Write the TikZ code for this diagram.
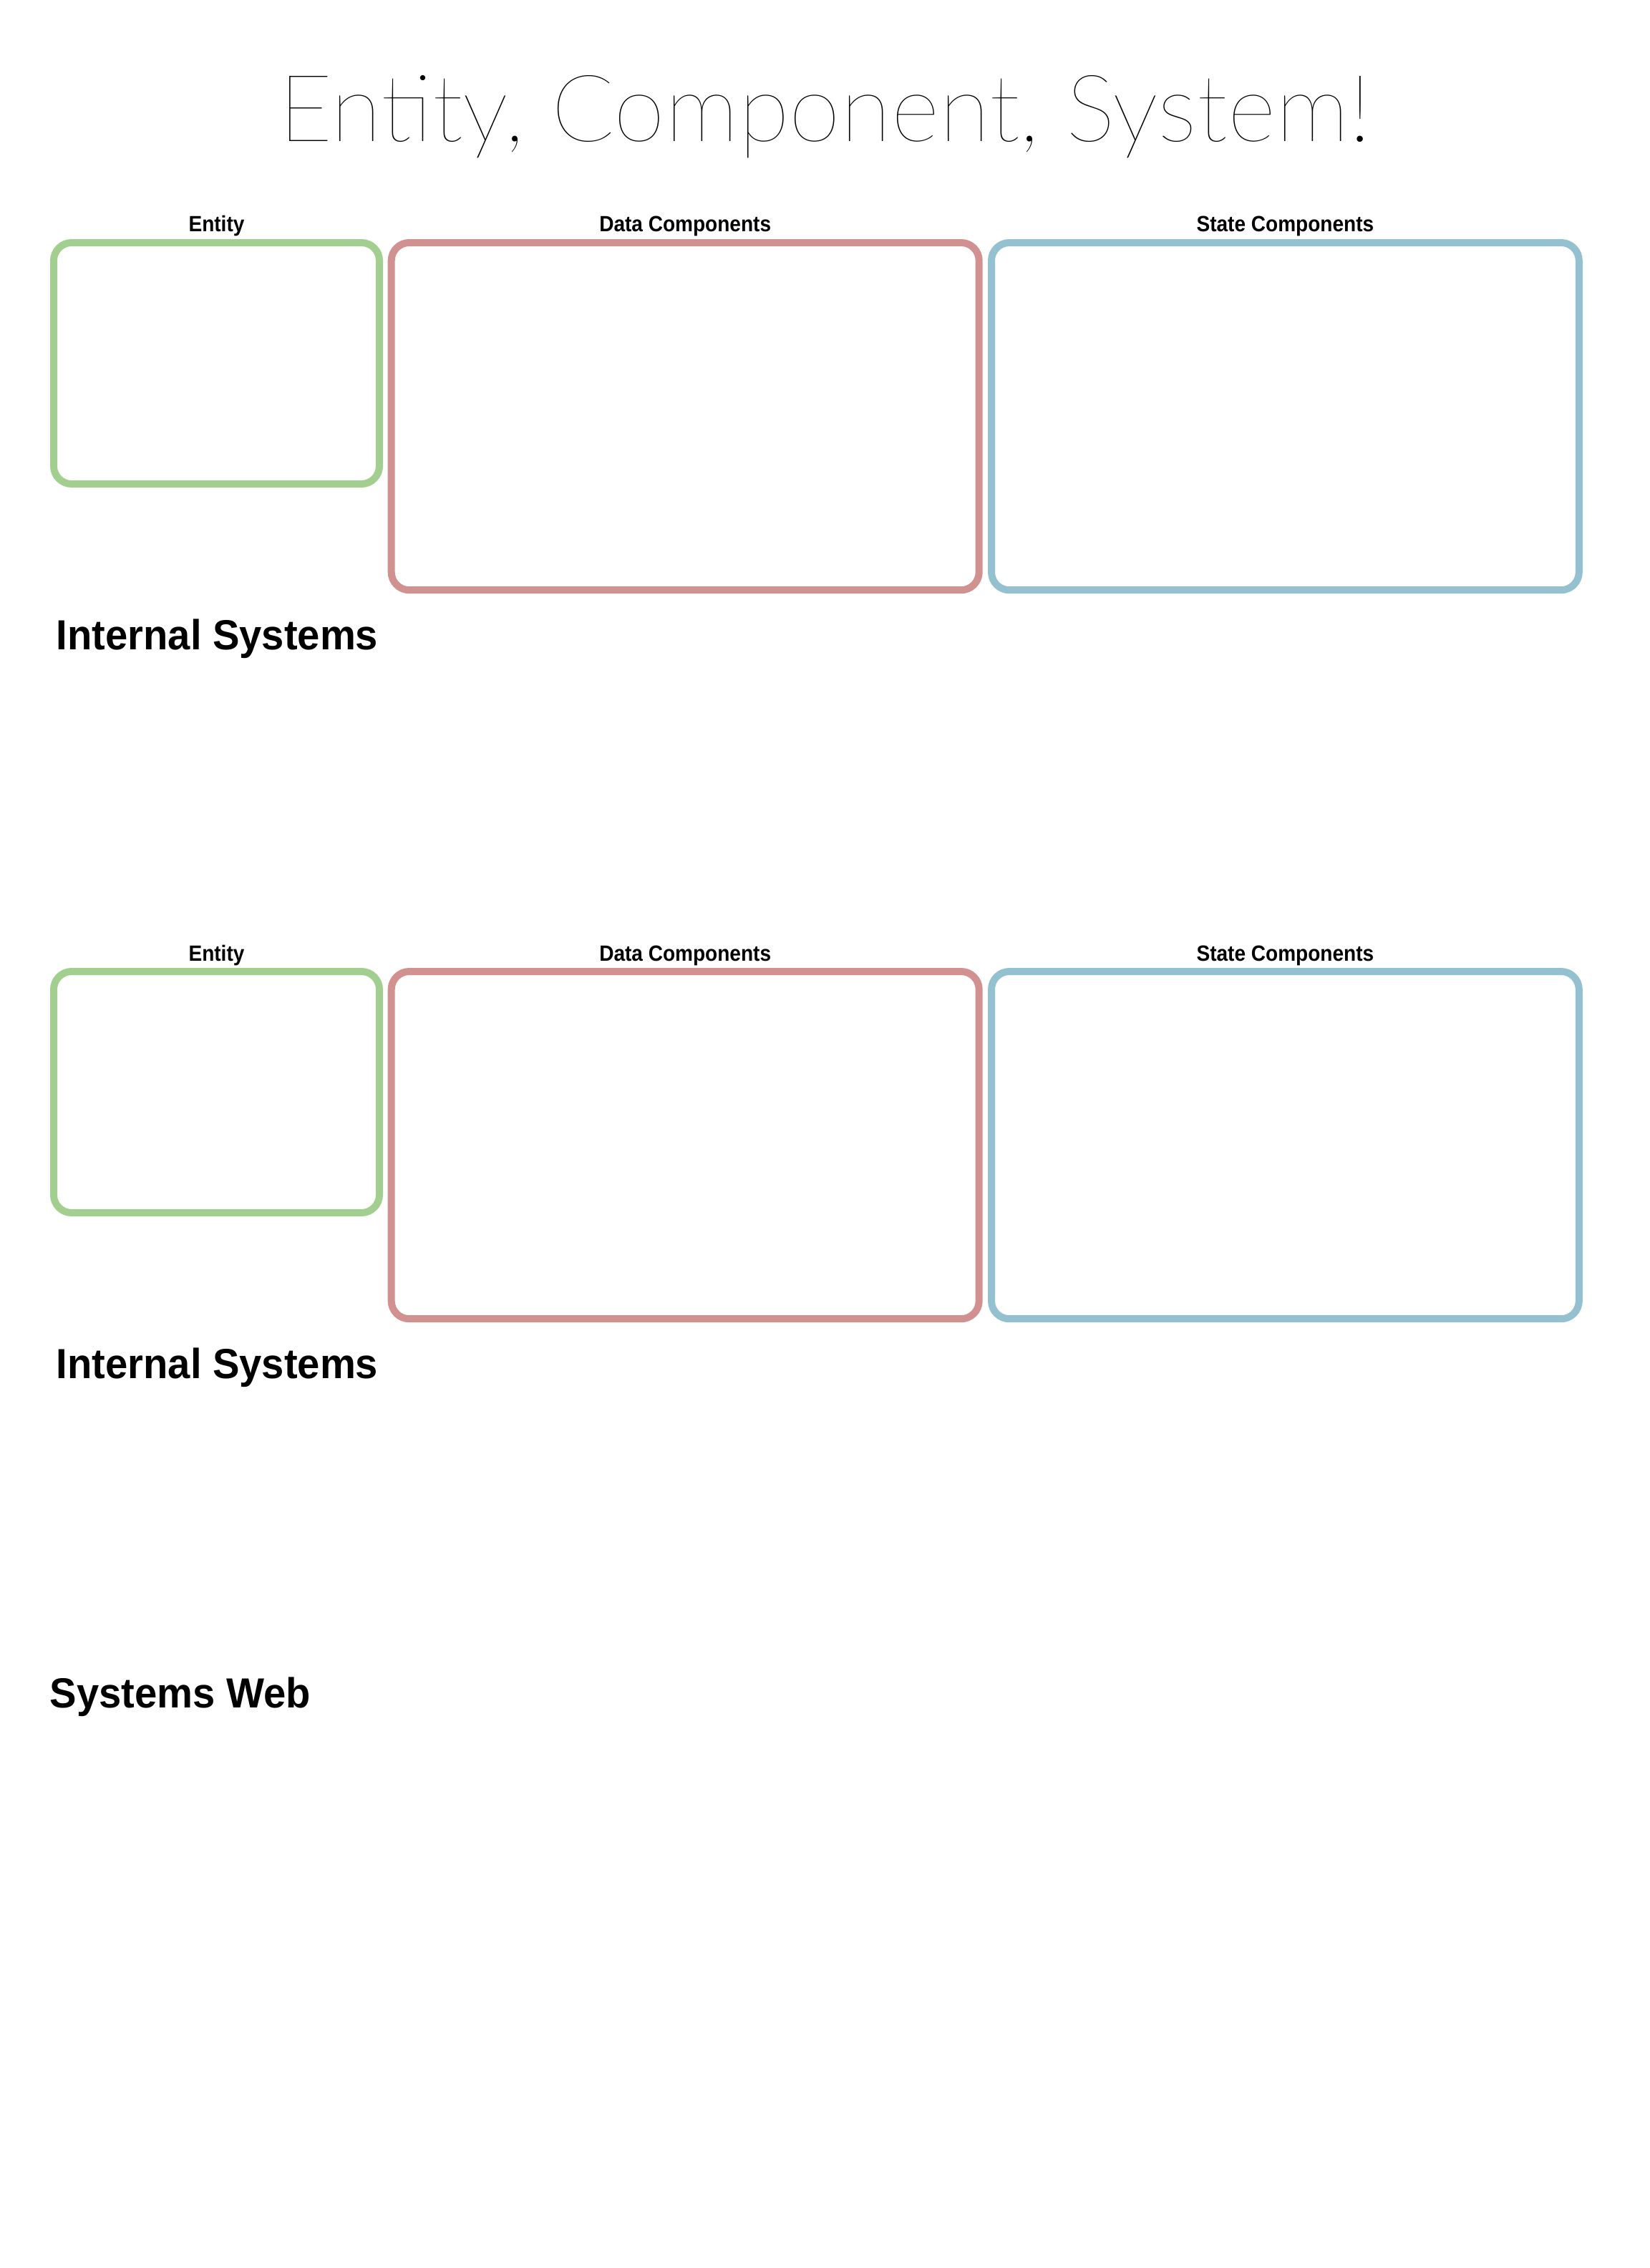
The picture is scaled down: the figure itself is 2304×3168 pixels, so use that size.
\documentclass[tikz,border=0pt]{standalone}
\usepackage{fontspec}
\usepackage{tikz}
\IfFontExistsTF{Lato Thin}{\newfontfamily\titlefont{Lato Thin}}{%
	\IfFontExistsTF{Noto Sans Thin}{\newfontfamily\titlefont{Noto Sans Thin}}{%
		\newfontfamily\titlefont{Liberation Sans}}}
\newfontfamily\labelfont{Liberation Sans}[FakeStretch=0.91]
\newfontfamily\headfont{Liberation Sans}[FakeStretch=0.955]
\definecolor{entgreen}{HTML}{A2CF90}
\definecolor{datared}{HTML}{D29191}
\definecolor{stateblue}{HTML}{93C1D0}
\tikzset{
	panel/.style={draw=#1, line width=2.5pt, rounded corners=6.25pt, inner sep=0pt, anchor=north west},
	paneltitle/.style={font={\labelfont\bfseries\fontsize{7.7}{9}\selectfont}, inner sep=0pt, anchor=base},
	heading/.style={font={\headfont\bfseries\fontsize{14.7}{18}\selectfont}, inner sep=0pt, anchor=base west},
}

\begin{document}
\begin{tikzpicture}[x=0.25pt,y=-0.25pt]
		\useasboundingbox (0,0) rectangle (2304,3168);

		\newcommand\ecsrow[2]{%
			\begin{scope}[shift={(0,#1)}]
				\node[panel=entgreen, minimum width=113.75pt, minimum height=84.25pt] (entity#2) at (70,334) {};
				\node[panel=datared, minimum width=205.25pt, minimum height=121.3pt] (data#2) at (541.7,334) {};
				\node[panel=stateblue, minimum width=205.2pt, minimum height=121.3pt] (state#2) at (1380,334) {};
				\node[paneltitle] (entitytitle#2) at ([yshift=2.5pt]entity#2.north) {Entity};
				\node[paneltitle] (datatitle#2) at ([yshift=2.5pt]data#2.north) {Data Components};
				\node[paneltitle] (statetitle#2) at ([yshift=2.5pt]state#2.north) {State Components};
				\node[heading] (internal#2) at (78,907) {Internal Systems};
			\end{scope}
		}

		% title
		\node[font={\titlefont\fontsize{32.5}{40}\selectfont}, inner sep=0pt, anchor=base] (title) at (1152,197) {Entity, Component, System!};

		% two entity rows
		\ecsrow{0}{a}
		\ecsrow{1018}{b}

		% web
		\node[heading] (web) at (69,2385) {Systems Web};
	\end{tikzpicture}
\end{document}
